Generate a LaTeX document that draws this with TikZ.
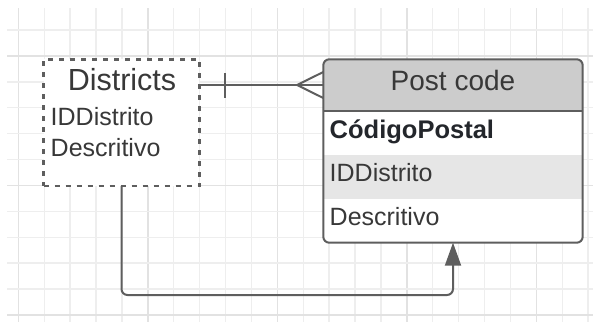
\documentclass[tikz,border=0pt]{standalone}
\usepackage{fontspec}
\setmainfont{Liberation Sans}
\usetikzlibrary{arrows.meta}
\definecolor{gridminor}{HTML}{EEEEEE}
\definecolor{gridmajor}{HTML}{E2E2E2}
\definecolor{edge}{HTML}{5E5E5E}
\definecolor{txt}{HTML}{383838}
\definecolor{boldtxt}{HTML}{23262B}
\definecolor{hdrfill}{HTML}{CCCCCC}
\definecolor{rowfill}{HTML}{E6E6E6}
\begin{document}
\begin{tikzpicture}[x=1pt,y=-1pt,
  gridline/.style={gridminor,line width=1.4pt},
  majorline/.style={gridmajor,line width=1.4pt},
  conn/.style={edge,line width=2pt},
  fieldtxt/.style={anchor=base west,inner sep=0pt,text=txt,font=\fontsize{25}{29}\selectfont},
  titletxt/.style={anchor=base,inner sep=0pt,text=txt},
  boxshape/.style={rectangle,inner sep=0pt,outer sep=0pt}]
\useasboundingbox (0,0) rectangle (593,322);
\fill[white] (0,0) rectangle (593,322);
% grid
\foreach \k in {0,...,22}{
  \pgfmathtruncatemacro{\m}{mod(\k,5)}
  \ifnum\m=0
    \draw[majorline] ({18.3+25.9*\k},8) -- ({18.3+25.9*\k},322);
  \else
    \draw[gridline] ({18.3+25.9*\k},8) -- ({18.3+25.9*\k},322);
  \fi
}
\foreach \k in {0,...,11}{
  \pgfmathtruncatemacro{\m}{mod(\k+4,5)}
  \ifnum\m=0
    \draw[majorline] (7,{30+25.9*\k}) -- (593,{30+25.9*\k});
  \else
    \draw[gridline] (7,{30+25.9*\k}) -- (593,{30+25.9*\k});
  \fi
}
% Districts box
\node[boxshape,fill=white,draw=edge,line width=2.8pt,dash pattern=on 5pt off 6pt,
  minimum width=155.6pt,minimum height=126.7pt] (districts) at (121.5,122.65) {};
\node[titletxt,font=\fontsize{30.5}{34}\selectfont] (dtitle) at (122,90.5) {Districts};
\node[fieldtxt] (did) at (50.5,125) {IDDistrito};
\node[fieldtxt] (ddesc) at (50.5,156) {Descritivo};
% Post code box
\node[boxshape,minimum width=259.4pt,minimum height=183.4pt] (post) at (453,151) {};
\begin{scope}
  \clip[rounded corners=6pt] (post.north west) rectangle (post.south east);
  \fill[white] (post.north west) rectangle (post.south east);
  \node[boxshape,fill=hdrfill,minimum width=259.4pt,minimum height=51.4pt] (hdr) at (453,85) {};
  \node[boxshape,fill=white,minimum width=259.4pt,minimum height=44.3pt] (row1) at (453,132.85) {};
  \node[boxshape,fill=rowfill,minimum width=259.4pt,minimum height=44.3pt] (row2) at (453,177.15) {};
  \node[boxshape,fill=white,minimum width=259.4pt,minimum height=43.4pt] (row3) at (453,221) {};
\end{scope}
\draw[edge,line width=2pt] (hdr.south west) -- (hdr.south east);
\draw[edge,line width=2pt,rounded corners=6pt] (post.north west) rectangle (post.south east);
\node[titletxt,font=\fontsize{28}{32}\selectfont] (ptitle) at (453,90) {Post code};
\node[fieldtxt,text=boldtxt,font=\fontsize{25.5}{29}\selectfont\bfseries] (pcp) at (329.5,138) {CódigoPostal};
\node[fieldtxt] (pid) at (329.5,181.7) {IDDistrito};
\node[fieldtxt] (pdesc) at (329.5,225) {Descritivo};
% relationship connector with crow's foot
\coordinate (dstart) at (districts.east |- hdr.west);
\coordinate (bar) at (225,85);
\coordinate (crow) at (297,85);
\draw[conn] (dstart) -- (hdr.west);
\draw[conn] ([yshift=-12.5pt]bar) -- ([yshift=12.5pt]bar);
\draw[conn] (crow) -- ([yshift=-13pt]hdr.west);
\draw[conn] (crow) -- ([yshift=13pt]hdr.west);
% bottom connector
\coordinate (bend) at (post.south |- 0,295);
\draw[conn,rounded corners=6pt,-{Triangle[length=23pt,width=16pt]}] (districts.south) |- (bend) -- (post.south);
\end{tikzpicture}
\end{document}
